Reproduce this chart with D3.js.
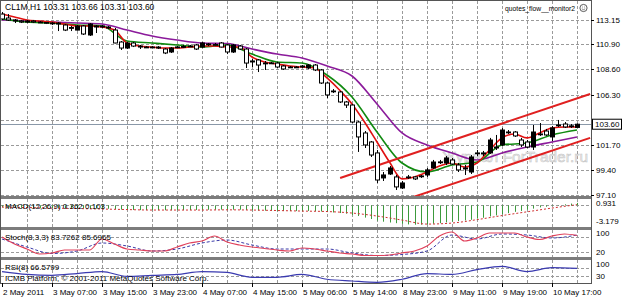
<!DOCTYPE html>
<html><head><meta charset="utf-8">
<script src="https://cdnjs.cloudflare.com/ajax/libs/d3/7.8.5/d3.min.js"></script>
<style>
html,body{margin:0;padding:0;background:#fff;}
svg{display:block;font-family:"Liberation Sans",Arial,sans-serif;}
</style></head><body>
<svg id="c" width="623" height="298"></svg>
<script>
// ---------------- data ----------------
const headerText = "CL1M,H1 103.31 103.66 103.31 103.60";
const cornerText = "quotes_flow__monitor2";
const watermark = "Журнал ForTrader.ru";
const copyright = "ICMB Platform, © 2001-2011 MetaQuotes Software Corp.";

const opens = [113.65,113.29,113.11,113.02,112.92,113.02,112.92,112.88,112.83,112.83,
112.65,112.40,112.19,112.56,111.74,112.56,112.56,112.47,112.19,111.10,
110.55,111.01,110.73,110.64,110.64,110.64,110.46,110.19,110.64,110.64,
110.69,110.83,110.64,110.92,110.87,111.01,110.83,110.19,110.73,110.46,
109.37,109.46,109.18,109.18,109.18,108.91,108.82,108.82,108.82,108.73,
109.00,108.55,107.36,106.63,106.54,105.63,105.35,103.80,102.80,101.98,
100.98,98.70,99.06,98.79,97.78,98.79,98.79,98.88,98.97,99.61,
100.15,100.06,100.34,99.88,99.61,99.24,100.98,100.98,100.98,101.43,
101.71,102.89,102.89,102.16,101.98,101.52,102.71,102.98,102.44,103.53,
103.62,103.44,103.31];
const highs = [113.84,113.65,113.20,113.11,113.11,113.11,113.02,112.92,112.92,112.92,
112.74,112.56,112.65,112.65,112.83,112.65,112.65,112.56,112.38,111.19,
111.10,111.10,110.83,110.73,110.73,110.73,110.55,110.64,110.73,110.83,
110.83,110.92,111.10,111.01,111.01,111.10,110.92,110.92,110.83,110.55,
109.55,109.55,109.37,109.28,109.28,109.00,108.91,108.91,109.00,109.09,
109.09,108.64,107.45,106.81,106.63,105.72,105.45,103.90,102.98,102.07,
101.25,99.24,99.79,98.97,98.42,98.97,98.88,98.97,99.61,100.34,
100.34,100.70,100.52,100.06,99.88,100.79,101.25,101.16,102.35,102.62,
103.26,103.07,102.98,102.35,102.16,103.53,103.71,103.17,103.44,103.99,
103.80,103.62,103.66];
const lows = [113.11,113.02,112.83,112.83,112.83,112.83,112.83,112.74,112.65,112.10,
112.10,112.10,112.15,111.74,111.65,111.92,112.38,112.29,110.98,110.37,
110.46,110.64,110.46,110.55,110.55,110.46,110.00,110.10,110.55,110.55,
110.64,110.37,110.55,110.73,110.73,110.60,110.00,110.10,110.37,108.73,
108.82,108.36,108.55,109.09,108.73,108.55,108.73,108.73,108.73,108.64,
108.45,107.27,105.99,106.45,105.54,105.08,103.71,101.07,101.43,100.61,
98.24,98.42,98.97,97.60,97.69,98.61,98.51,98.70,98.79,99.52,
99.97,99.88,99.88,99.24,98.97,99.06,100.70,100.70,100.89,101.25,
101.61,102.71,102.44,101.52,101.43,101.25,102.53,102.53,102.07,103.35,
103.26,103.26,103.31];
const closes = [113.20,113.11,113.02,112.92,113.02,112.92,112.88,112.83,112.82,112.74,
112.19,112.42,112.56,111.83,112.74,112.47,112.47,112.38,111.01,110.55,
111.01,110.73,110.64,110.63,110.60,110.55,110.10,110.55,110.65,110.69,
110.73,110.46,111.01,110.87,110.83,110.64,110.19,110.83,110.46,109.18,
109.28,109.00,109.17,109.19,108.82,108.64,108.81,108.77,108.91,109.00,
108.55,107.36,106.27,106.58,105.63,105.35,103.80,102.44,101.71,100.79,
98.51,98.97,99.61,97.88,98.24,98.78,98.61,98.83,99.43,100.15,
100.16,100.52,99.97,99.43,99.52,100.61,100.97,100.89,102.16,101.52,
103.07,102.88,102.53,101.71,101.52,102.89,102.70,102.62,103.26,103.52,
103.35,103.45,103.60];

// moving averages (fast: every 2 bars, mid/slow: every 4 bars)
const maFastStep = 2;
const maFast = [113.65,113.38,113.11,113.02,112.92,112.74,112.56,112.56,112.47,112.19,
111.01,110.73,110.64,110.55,110.55,110.64,110.73,110.73,110.64,110.64,
109.73,109.28,109.09,108.91,108.82,108.73,107.82,106.72,105.45,103.80,
101.98,100.15,98.61,98.79,99.24,99.79,100.06,99.70,100.06,101.25,
102.35,102.71,102.35,102.80,103.26,103.35,103.35];
const maStep = 4;
const maMid = [113.20,112.92,112.83,112.65,112.56,111.19,111.01,110.83,110.64,110.83,
110.00,109.28,109.18,108.09,106.08,102.89,100.06,99.24,99.88,100.15,
101.71,101.89,102.62,103.07];
const maSlow = [113.11,113.02,112.92,112.83,112.74,112.19,111.65,111.28,111.01,110.96,
110.46,110.00,109.64,108.91,108.00,105.45,102.80,101.71,100.98,100.34,
100.98,101.52,101.98,102.44];

// trend channel (bar index, price)
const channelUpper = [[54.1, 98.70], [94.1, 106.36]];
const channelLower = [[65.8, 96.96], [94.1, 102.35]];

// MACD(12,26,9)
const macdLabel = "MACD(12,26,9) 0.362 0.103";
const macdHist = [-0.30,-0.32,-0.34,-0.35,-0.36,-0.37,-0.38,-0.38,-0.39,-0.40,
-0.42,-0.44,-0.45,-0.47,-0.48,-0.48,-0.49,-0.50,-0.55,-0.62,
-0.66,-0.68,-0.70,-0.70,-0.71,-0.71,-0.72,-0.72,-0.71,-0.70,
-0.69,-0.68,-0.66,-0.65,-0.64,-0.63,-0.64,-0.64,-0.64,-0.68,
-0.72,-0.76,-0.78,-0.80,-0.82,-0.84,-0.84,-0.84,-0.83,-0.82,
-0.83,-0.90,-0.98,-1.05,-1.13,-1.22,-1.42,-1.57,-1.80,-2.01,
-2.25,-2.40,-2.52,-2.62,-2.72,-2.80,-2.84,-2.84,-2.78,-2.70,
-2.62,-2.50,-2.40,-2.30,-2.22,-2.12,-1.95,-1.82,-1.62,-1.48,
-1.30,-1.15,-0.95,-0.82,-0.62,-0.48,-0.30,-0.20,-0.08,0.05,
0.15,0.26,0.36];
const macdSignal = [-0.25,-0.32,-0.40,-0.47,-0.54,-0.62,-0.69,-0.69,-0.69,-0.66,
-0.69,-0.76,-0.84,-0.91,-1.13,-1.57,-2.16,-2.75,-2.60,-2.10,
-1.50,-0.95,-0.40,0.103];
const macdAxis = ["0.931", "-3.179"];

// Stochastic(8,3,3)
const stochLabel = "Stoch(8,3,3) 83.7262 85.6965";
const stochK = [78,50,30,10,14,26,26,26,70,50,30,26,22,22,38,54,62,82,58,46,
38,32,26,22,34,30,22,14,10,4,4,6,14,22,42,82,98,62,74,94,94,94,78,68,82,90,84];
const stochD = [70,38,12,22,54,42,22,30,54,66,46,30,30,30,14,4,8,22,86,70,90,86,74,86];
const stochLevels = [80, 20];
const stochAxis = ["100", "20"];

// RSI(8)
const rsiLabel = "RSI(8) 66.5799";
const rsi = [52,39,35,43,52,30,35,39,52,48,26,26,39,17,9,3,17,43,39,61,76,52,70,66.6];
const rsiLevels = [70, 30];
const rsiAxis = ["100", "30"];

// axes
const priceTicks = [113.15,110.90,108.60,106.30,101.70,99.40,97.10];
const gridPrices = [113.15,110.90,108.60,106.30,104.00,101.70,99.40,97.10];
const timeLabels = ["2 May 2011","3 May 07:00","3 May 15:00","3 May 23:00","4 May 07:00","4 May 15:00",
"5 May 06:00","5 May 14:00","8 May 23:00","9 May 11:00","9 May 19:00","10 May 17:00"];
const timeLabelStep = 8;
const gridStep = 4;

// ---------------- drawing ----------------
const W = 623, H = 298;
const plotL = 1, plotR = 591;
const P = {
  main:  {t: 1,   b: 196},
  macd:  {t: 199, b: 227},
  stoch: {t: 230, b: 257},
  rsi:   {t: 260, b: 283}
};
const nBars = closes.length;
const svg = d3.select("#c");
svg.append("rect").attr("width", W).attr("height", H).attr("fill", "#fff");

const x = d3.scaleLinear().domain([0, nBars - 1]).range([2, 577]);
const y = d3.scaleLinear().domain([96.96, 114.75]).range([197, 2]);
const yM = d3.scaleLinear().domain([-3.179, 0.931]).range([227, 199]);
const yS = d3.scaleLinear().domain([0, 100]).range([256.5, 231.5]);
const yR = d3.scaleLinear().domain([0, 100]).range([283, 261]);

const defs = svg.append("defs");
Object.entries(P).forEach(([k, p]) => {
  defs.append("clipPath").attr("id", "clip-" + k)
    .append("rect").attr("x", plotL).attr("y", p.t).attr("width", plotR - plotL).attr("height", p.b - p.t);
});

const gridColor = "#9a9a9a";
const gridBars = d3.range(gridStep, nBars, gridStep);
Object.entries(P).forEach(([k, p]) => {
  svg.append("g").selectAll("line").data(gridBars).join("line")
    .attr("x1", d => Math.round(x(d)) + 0.5).attr("x2", d => Math.round(x(d)) + 0.5)
    .attr("y1", p.t).attr("y2", p.b)
    .attr("stroke", gridColor).attr("stroke-width", 1).attr("stroke-dasharray", "3,2");
});
svg.append("g").selectAll("line").data(gridPrices).join("line")
  .attr("x1", plotL).attr("x2", plotR)
  .attr("y1", d => Math.round(y(d)) + 0.5).attr("y2", d => Math.round(y(d)) + 0.5)
  .attr("stroke", gridColor).attr("stroke-dasharray", "3,2");

// watermark
svg.append("text").text(watermark)
  .attr("x", 442).attr("y", 162).attr("font-size", 15.5)
  .attr("textLength", 146).attr("lengthAdjust", "spacingAndGlyphs")
  .attr("fill", "#ececec").attr("stroke", "#c4c4c4").attr("stroke-width", 0.5);

// current price line
const lastClose = closes[nBars - 1];
svg.append("line").attr("x1", plotL).attr("x2", plotR)
  .attr("y1", Math.round(y(lastClose)) + 0.5).attr("y2", Math.round(y(lastClose)) + 0.5)
  .attr("stroke", "#8a98a8").attr("stroke-width", 1);

const gMain = svg.append("g").attr("clip-path", "url(#clip-main)");

const lineGen = (xs, ys) => d3.line().x((d, i) => x(xs(i))).y(d => ys(d)).curve(d3.curveMonotoneX);
gMain.append("path").datum(maSlow).attr("d", lineGen(i => i * maStep, y))
  .attr("fill", "none").attr("stroke", "#8b1a9b").attr("stroke-width", 1.6);
gMain.append("path").datum(maMid).attr("d", lineGen(i => i * maStep, y))
  .attr("fill", "none").attr("stroke", "#108a10").attr("stroke-width", 1.6);
gMain.append("path").datum(maFast).attr("d", lineGen(i => i * maFastStep, y))
  .attr("fill", "none").attr("stroke", "#e01010").attr("stroke-width", 1.6);

[channelUpper, channelLower].forEach(c => {
  gMain.append("line")
    .attr("x1", x(c[0][0])).attr("y1", y(c[0][1]))
    .attr("x2", x(c[1][0])).attr("y2", y(c[1][1]))
    .attr("stroke", "#e02020").attr("stroke-width", 2);
});

const bars = d3.range(nBars).map(i => ({i, o: opens[i], h: highs[i], l: lows[i], c: closes[i]}));
const cg = gMain.append("g");
cg.selectAll("line.w").data(bars).join("line")
  .attr("x1", d => Math.round(x(d.i)) + 0.5).attr("x2", d => Math.round(x(d.i)) + 0.5)
  .attr("y1", d => y(d.h)).attr("y2", d => y(d.l))
  .attr("stroke", "#000").attr("stroke-width", 1);
cg.selectAll("rect.b").data(bars).join("rect")
  .attr("x", d => Math.round(x(d.i)) - 1.5)
  .attr("y", d => Math.min(y(d.o), y(d.c)))
  .attr("width", 4)
  .attr("height", d => Math.max(0.8, Math.abs(y(d.o) - y(d.c))))
  .attr("fill", d => d.c > d.o ? "#000" : "#fff")
  .attr("stroke", "#000").attr("stroke-width", 1);

// header texts
svg.append("text").text(headerText).attr("x", 5).attr("y", 10).attr("font-size", 8.5).attr("fill", "#000");
svg.append("text").text(cornerText).attr("x", 505).attr("y", 11).attr("font-size", 8)
  .attr("textLength", 70).attr("lengthAdjust", "spacingAndGlyphs").attr("fill", "#000");
svg.append("circle").attr("cx", 583.5).attr("cy", 8).attr("r", 3.6).attr("fill", "none").attr("stroke", "#333").attr("stroke-width", 0.8);
svg.append("path").attr("d", "M581.8,8.8 Q583.5,10.6 585.2,8.8").attr("fill", "none").attr("stroke", "#333").attr("stroke-width", 0.6);
svg.append("circle").attr("cx", 582.3).attr("cy", 7).attr("r", 0.45).attr("fill", "#333");
svg.append("circle").attr("cx", 584.7).attr("cy", 7).attr("r", 0.45).attr("fill", "#333");

// ---- MACD ----
const gMacd = svg.append("g").attr("clip-path", "url(#clip-macd)");
gMacd.append("line").attr("x1", plotL).attr("x2", plotR)
  .attr("y1", Math.round(yM(0)) + 0.5).attr("y2", Math.round(yM(0)) + 0.5)
  .attr("stroke", gridColor).attr("stroke-dasharray", "3,2");
gMacd.selectAll("line.h").data(macdHist).join("line")
  .attr("x1", (d, i) => Math.round(x(i)) + 0.5).attr("x2", (d, i) => Math.round(x(i)) + 0.5)
  .attr("y1", yM(0)).attr("y2", d => yM(d))
  .attr("stroke", "#3c9a3c").attr("stroke-width", 1);
gMacd.append("path").datum(macdSignal).attr("d", lineGen(i => i * maStep, yM))
  .attr("fill", "none").attr("stroke", "#d03030").attr("stroke-width", 1).attr("stroke-dasharray", "2,2");
svg.append("text").text(macdLabel).attr("x", 5).attr("y", 209).attr("font-size", 8).attr("fill", "#000");

// ---- Stochastic ----
const gSt = svg.append("g").attr("clip-path", "url(#clip-stoch)");
gSt.selectAll("line.lv").data(stochLevels).join("line")
  .attr("x1", plotL).attr("x2", plotR)
  .attr("y1", d => Math.round(yS(d)) + 0.5).attr("y2", d => Math.round(yS(d)) + 0.5)
  .attr("stroke", gridColor).attr("stroke-dasharray", "3,2");
gSt.append("path").datum(stochD).attr("d", lineGen(i => i * maStep, yS))
  .attr("fill", "none").attr("stroke", "#3a3aa8").attr("stroke-width", 1).attr("stroke-dasharray", "3,2");
gSt.append("path").datum(stochK).attr("d", lineGen(i => i * 2, yS))
  .attr("fill", "none").attr("stroke", "#e0405a").attr("stroke-width", 1.2);
svg.append("text").text(stochLabel).attr("x", 5).attr("y", 240).attr("font-size", 8).attr("fill", "#000");

// ---- RSI ----
const gR = svg.append("g").attr("clip-path", "url(#clip-rsi)");
gR.selectAll("line.lv").data(rsiLevels).join("line")
  .attr("x1", plotL).attr("x2", plotR)
  .attr("y1", d => Math.round(yR(d)) + 0.5).attr("y2", d => Math.round(yR(d)) + 0.5)
  .attr("stroke", gridColor).attr("stroke-dasharray", "3,2");
gR.append("path").datum(rsi).attr("d", lineGen(i => i * maStep, yR))
  .attr("fill", "none").attr("stroke", "#3a3ab0").attr("stroke-width", 1.2);
svg.append("text").text(rsiLabel).attr("x", 5).attr("y", 270).attr("font-size", 8).attr("fill", "#000");
svg.append("text").text(copyright).attr("x", 5).attr("y", 281).attr("font-size", 8).attr("fill", "#000");

// ---- separators & frame ----
[[196, 199], [227, 230], [257, 260]].forEach(s => {
  svg.append("rect").attr("x", 0).attr("y", s[0]).attr("width", plotR + 1).attr("height", s[1] - s[0]).attr("fill", "#7c7c7c");
});
svg.append("rect").attr("x", 0.5).attr("y", 0.5).attr("width", plotR).attr("height", 283)
  .attr("fill", "none").attr("stroke", "#555").attr("stroke-width", 1);

// price axis
const ax = svg.append("g");
ax.selectAll("line").data(priceTicks).join("line")
  .attr("x1", plotR).attr("x2", plotR + 3)
  .attr("y1", d => Math.round(y(d)) + 0.5).attr("y2", d => Math.round(y(d)) + 0.5).attr("stroke", "#000");
ax.selectAll("text").data(priceTicks).join("text").text(d => d.toFixed(2))
  .attr("x", 596).attr("y", d => y(d) + 3).attr("font-size", 8).attr("fill", "#000");
const cy = y(lastClose);
svg.append("rect").attr("x", 592.5).attr("y", cy - 5).attr("width", 29).attr("height", 10)
  .attr("fill", "#fff").attr("stroke", "#000");
svg.append("text").text(lastClose.toFixed(2)).attr("x", 595).attr("y", cy + 3).attr("font-size", 8).attr("fill", "#000");

// indicator axes
const sub = [
  [macdAxis[0], 206], [macdAxis[1], 224],
  [stochAxis[0], 236], [stochAxis[1], yS(20) + 3],
  [rsiAxis[0], 267], [rsiAxis[1], yR(30) + 3]
];
svg.append("g").selectAll("text").data(sub).join("text").text(d => d[0])
  .attr("x", 596).attr("y", d => d[1]).attr("font-size", 8).attr("fill", "#000");

// time axis
const tg = svg.append("g");
tg.selectAll("line").data(timeLabels).join("line")
  .attr("x1", (d, i) => Math.round(x(i * timeLabelStep)) + 0.5).attr("x2", (d, i) => Math.round(x(i * timeLabelStep)) + 0.5)
  .attr("y1", 283).attr("y2", 287).attr("stroke", "#000");
tg.selectAll("text").data(timeLabels).join("text").text(d => d)
  .attr("x", (d, i) => x(i * timeLabelStep) + 1).attr("y", 295).attr("font-size", 8).attr("fill", "#000");
</script>
</body></html>
